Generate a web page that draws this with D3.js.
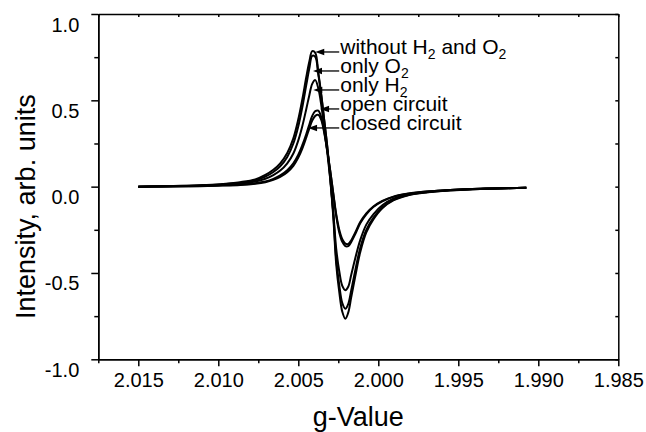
<!DOCTYPE html>
<html lang="en">
<head>
<meta charset="UTF-8">
<title>Intensity vs g-Value</title>
<script src="https://d3js.org/d3.v7.min.js"></script>
<style>
    body { margin: 0; background: #fff; }
    svg text { font-family: Arial, "Liberation Sans", sans-serif; fill: #000; }
    .tick-label { font-size: 20px; }
    .axis-title { font-size: 27px; }
    .legend-label { font-size: 21px; }
    .axis path, .axis line { stroke: #000; stroke-width: 1.5px; }
</style>
</head>
<body>
<svg width="646" height="432"></svg>
<script>
const gValues = [2.01500, 2.01363, 2.01238, 2.01113, 2.00988, 2.00863, 2.00769, 2.00706, 2.00656, 2.00613,
                 2.00569, 2.00531, 2.00500, 2.00475, 2.00450, 2.00431, 2.00413, 2.00394, 2.00375, 2.00356,
                 2.00338, 2.00319, 2.00300, 2.00281, 2.00263, 2.00244, 2.00225, 2.00206, 2.00188, 2.00169,
                 2.00144, 2.00113, 2.00075, 2.00031, 1.99975, 1.99906, 1.99813, 1.99694, 1.99550, 1.99363,
                 1.99075];

const withoutH2O2 = [0.000, 0.002, 0.005, 0.008, 0.014, 0.026, 0.042, 0.068, 0.098, 0.135,
                     0.195, 0.280, 0.390, 0.505, 0.635, 0.725, 0.785, 0.775, 0.660, 0.530,
                     0.385, 0.230, 0.040, -0.180, -0.450, -0.610, -0.725, -0.765, -0.730, -0.640,
                     -0.520, -0.380, -0.265, -0.190, -0.125, -0.080, -0.050, -0.033, -0.022, -0.013,
                     -0.007];
const onlyO2 = [0.000, 0.002, 0.004, 0.007, 0.012, 0.022, 0.037, 0.058, 0.085, 0.118,
                0.172, 0.250, 0.350, 0.460, 0.590, 0.685, 0.758, 0.752, 0.650, 0.525,
                0.385, 0.235, 0.055, -0.160, -0.420, -0.570, -0.675, -0.707, -0.680, -0.600,
                -0.485, -0.355, -0.250, -0.180, -0.120, -0.077, -0.048, -0.032, -0.021, -0.013,
                -0.007];
const onlyH2 = [0.000, 0.001, 0.003, 0.006, 0.010, 0.018, 0.030, 0.046, 0.067, 0.093,
                0.135, 0.192, 0.268, 0.350, 0.450, 0.530, 0.595, 0.617, 0.570, 0.470,
                0.340, 0.200, 0.040, -0.150, -0.360, -0.490, -0.575, -0.600, -0.580, -0.510,
                -0.415, -0.310, -0.220, -0.160, -0.108, -0.070, -0.045, -0.030, -0.020, -0.012,
                -0.007];
const openCircuit = [0.000, 0.001, 0.002, 0.004, 0.007, 0.012, 0.020, 0.030, 0.045, 0.065,
                     0.095, 0.135, 0.185, 0.240, 0.305, 0.360, 0.410, 0.437, 0.440, 0.400,
                     0.320, 0.210, 0.090, -0.040, -0.160, -0.250, -0.305, -0.330, -0.332, -0.310,
                     -0.265, -0.205, -0.155, -0.115, -0.083, -0.058, -0.040, -0.028, -0.019, -0.012,
                     -0.007];
const closedCircuit = [0.000, 0.001, 0.002, 0.003, 0.006, 0.010, 0.017, 0.026, 0.039, 0.056,
                       0.083, 0.120, 0.168, 0.220, 0.285, 0.338, 0.383, 0.410, 0.416, 0.385,
                       0.312, 0.208, 0.088, -0.045, -0.170, -0.265, -0.320, -0.345, -0.345, -0.320,
                       -0.275, -0.212, -0.160, -0.118, -0.085, -0.059, -0.041, -0.028, -0.019, -0.012,
                       -0.007];

const xTicks = [2.015, 2.010, 2.005, 2.000, 1.995, 1.990, 1.985];
const xMinorTicks = [2.0175, 2.0125, 2.0075, 2.0025, 1.9975, 1.9925, 1.9875];
const yTicks = [1.0, 0.5, 0.0, -0.5, -1.0];
const yMinorTicks = [0.75, 0.25, -0.25, -0.75];

// legend labels: [text, subscript?] pieces, and the point each arrow touches (g, intensity)
const labels = [
    [["without H", false], ["2", true], [" and O", false], ["2", true]],
    [["only O", false], ["2", true]],
    [["only H", false], ["2", true]],
    [["open circuit", false]],
    [["closed circuit", false]]
];
const arrowG = [2.00394, 2.00408, 2.00406, 2.00364, 2.00439];
const arrowI = [0.78, 0.67, 0.56, 0.45, 0.34];
const labelG = 2.00238;

const series = [withoutH2O2, onlyO2, onlyH2, openCircuit, closedCircuit];

const plotLeft = 98.3, plotRight = 618.3, plotTop = 14, plotBottom = 359.3;
const svg = d3.select("svg");

const x = d3.scaleLinear().domain([2.0175, 1.985]).range([plotLeft, plotRight]);
const y = d3.scaleLinear().domain([-1, 1]).range([plotBottom, plotTop]);

// minor ticks first, then major axes on top
svg.append("g").attr("class", "axis")
    .attr("transform", `translate(0,${plotBottom})`)
    .call(d3.axisBottom(x).tickValues(xMinorTicks).tickSize(4).tickSizeOuter(0).tickFormat(""));
svg.append("g").attr("class", "axis")
    .attr("transform", `translate(${plotLeft},0)`)
    .call(d3.axisLeft(y).tickValues(yMinorTicks).tickSize(4).tickSizeOuter(0).tickFormat(""));

const xAxis = svg.append("g").attr("class", "axis")
    .attr("transform", `translate(0,${plotBottom})`)
    .call(d3.axisBottom(x).tickValues(xTicks).tickSize(7).tickSizeOuter(0).tickFormat(d => d.toFixed(3)));
xAxis.selectAll("text").attr("class", "tick-label").attr("y", 28).attr("dy", 0);

const yAxis = svg.append("g").attr("class", "axis")
    .attr("transform", `translate(${plotLeft},0)`)
    .call(d3.axisLeft(y).tickValues(yTicks).tickSize(7).tickSizeOuter(0).tickFormat(d => d.toFixed(1)));
yAxis.selectAll("text").attr("class", "tick-label").attr("x", -19).attr("y", 17).attr("dy", 0);

// top and right frame with small inward ticks
svg.append("g").attr("class", "axis")
    .attr("transform", `translate(0,${plotTop})`)
    .call(d3.axisTop(x).tickValues(xTicks.concat(xMinorTicks)).tickSize(-3).tickSizeOuter(0).tickFormat(""));
svg.append("g").attr("class", "axis")
    .attr("transform", `translate(${plotRight},0)`)
    .call(d3.axisRight(y).tickValues(yTicks.concat(yMinorTicks)).tickSize(-3).tickSizeOuter(0).tickFormat(""));

// axis titles
svg.append("text")
    .attr("class", "axis-title")
    .attr("x", (plotLeft + plotRight) / 2)
    .attr("y", 426)
    .attr("text-anchor", "middle")
    .text("g-Value");

svg.append("text")
    .attr("class", "axis-title")
    .attr("transform", `translate(35,${(plotTop + plotBottom) / 2 + 20}) rotate(-90)`)
    .attr("text-anchor", "middle")
    .text("Intensity, arb. units");

// spectra
const line = d3.line()
    .x((d, i) => x(gValues[i]))
    .y(d => y(d))
    .curve(d3.curveCatmullRom.alpha(0.5));

svg.selectAll(".spectrum")
    .data(series)
    .join("path")
    .attr("class", "spectrum")
    .attr("d", line)
    .attr("fill", "none")
    .attr("stroke", "#000")
    .attr("stroke-width", 2);

// labels with arrows pointing at the curves
labels.forEach((parts, i) => {
    const tx = x(arrowG[i]), ty = y(arrowI[i]);
    const lx = x(labelG);
    svg.append("line")
        .attr("x1", tx + 6).attr("y1", ty)
        .attr("x2", lx - 1).attr("y2", ty)
        .attr("stroke", "#000").attr("stroke-width", 1.3);
    svg.append("path")
        .attr("d", `M${tx},${ty}L${tx + 9},${ty - 3.2}L${tx + 9},${ty + 3.2}Z`)
        .attr("fill", "#000");

    const t = svg.append("text")
        .attr("class", "legend-label")
        .attr("x", lx)
        .attr("y", ty + 7);
    parts.forEach(([str, sub]) => {
        if (sub) {
            t.append("tspan").attr("font-size", 14).attr("dy", 5).text(str);
        } else {
            t.append("tspan").attr("dy", t.selectAll("tspan").size() ? -5 : 0).text(str);
        }
    });
});
</script>
</body>
</html>
